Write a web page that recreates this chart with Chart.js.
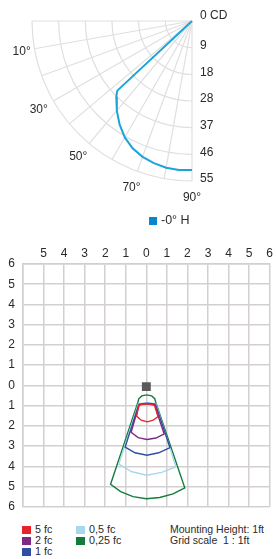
<!DOCTYPE html>
<html>
<head>
<meta charset="utf-8">
<script src="https://cdn.jsdelivr.net/npm/chart.js@4.4.0/dist/chart.umd.min.js"></script>
<style>
  html, body { margin:0; padding:0; background:#fff; }
  body { width:276px; height:559px; position:relative; overflow:hidden;
         font-family:"Liberation Sans", Arial, sans-serif; color:#2a2a2a; }
  canvas { position:absolute; left:0; }
  .lg { position:absolute; white-space:nowrap; line-height:1; }
  .sw { position:absolute; }
</style>
</head>
<body>
<canvas id="polar" width="276" height="232" style="top:0"></canvas>
<canvas id="iso" width="276" height="290" style="top:232px"></canvas>
<div id="legends"></div>

<script>
// ---- polar candela curve (angle in degrees, value in CD)
const POLAR_ANGLES = [0, 10, 20, 30, 40, 43, 45, 50, 55, 60, 65, 70, 75, 80, 85, 90];
const POLAR_CD     = [0, 0, 0, 0, 0, 35.1, 36.8, 40.2, 43.4, 46.2, 48.3, 49.7, 50.6, 51.2, 51.4, 51.2];
const POLAR_MAX    = 55;
const RING_LABELS  = ["0 CD", "9", "18", "28", "37", "46", "55"];
const SPOKE_ANGLES = [0, 10, 20, 30, 40, 50, 60, 70, 80, 90];
const ANGLE_LABELS = [10, 30, 50, 70, 90];
const POLAR_SERIES = "-0° H";

// ---- isolux contours (ft), y negative = below the fixture
const RED_X    = [-0.36, -0.42, -0.47, -0.25, 0.05, 0.33, 0.57, 0.48, 0.40, 0.20, 0.02, -0.18, -0.36];
const RED_Y    = [-0.98, -1.25, -1.52, -1.72, -1.80, -1.72, -1.54, -1.25, -0.98, -0.93, -0.91, -0.93, -0.98];
const PURPLE_X = [-0.34, -0.55, -0.74, -0.40, 0.03, 0.47, 0.87, 0.62, 0.42, 0.04, -0.34];
const PURPLE_Y = [-0.95, -1.65, -2.32, -2.58, -2.67, -2.60, -2.40, -1.65, -0.95, -0.90, -0.95];
const BLUE_X   = [-0.36, -0.70, -1.03, -0.55, 0.03, 0.60, 1.15, 0.80, 0.44, 0.04, -0.36];
const BLUE_Y   = [-0.93, -2.00, -3.05, -3.33, -3.45, -3.33, -3.08, -2.00, -0.93, -0.88, -0.93];
const LBLUE_X  = [-0.38, -0.86, -1.34, -0.70, 0.03, 0.75, 1.44, 0.95, 0.46, 0.04, -0.38];
const LBLUE_Y  = [-0.90, -2.40, -3.89, -4.27, -4.44, -4.30, -4.02, -2.45, -0.90, -0.86, -0.90];
const GREEN_X  = [-0.42, -0.37, -0.22, 0.02, 0.26, 0.41, 0.47, 1.17, 1.87, 1.30, 0.65, 0.00, -0.65, -1.25, -1.74, -1.08, -0.42];
const GREEN_Y  = [-0.87, -0.66, -0.52, -0.47, -0.52, -0.66, -0.87, -2.97, -5.06, -5.36, -5.54, -5.60, -5.50, -5.25, -4.89, -2.88, -0.87];
const ISO_LABELS = ["5 fc", "2 fc", "1 fc", "0,5 fc", "0,25 fc"];
const ISO_COLORS = ["#e6222b", "#7c2a85", "#2f4fa2", "#a8d8e9", "#137c3d"];
const GRID_TICKS = [-6, -5, -4, -3, -2, -1, 0, 1, 2, 3, 4, 5, 6];
const NOTES = ["Mounting Height: 1ft", "Grid scale  1 : 1ft"];

const TEXT = "#2a2a2a";
const FONT = "12px 'Liberation Sans', Arial, sans-serif";
const rad = d => d * Math.PI / 180;

// polar grid, ring/angle labels drawn against the chart's own scales
const polarGrid = {
  id: "polarGrid",
  beforeDatasetsDraw(chart) {
    const { ctx, scales: { x, y } } = chart;
    const cx = x.getPixelForValue(0), cy = y.getPixelForValue(0);
    const k = cx - x.getPixelForValue(-1);
    const R = POLAR_MAX * k;
    ctx.save();
    ctx.strokeStyle = "#dfdfdf"; ctx.lineWidth = 1.2;
    RING_LABELS.forEach((_, i) => {
      if (!i) return;
      ctx.beginPath();
      ctx.arc(cx, cy, R * i / (RING_LABELS.length - 1), Math.PI / 2, Math.PI);
      ctx.stroke();
    });
    SPOKE_ANGLES.forEach(a => {
      ctx.beginPath();
      ctx.moveTo(cx, cy);
      ctx.lineTo(cx - R * Math.cos(rad(a)), cy + R * Math.sin(rad(a)));
      ctx.stroke();
    });
    ctx.restore();
  },
  afterDraw(chart) {
    const { ctx, scales: { x, y } } = chart;
    const cx = x.getPixelForValue(0), cy = y.getPixelForValue(0);
    const R = POLAR_MAX * (cx - x.getPixelForValue(-1));
    ctx.save();
    ctx.font = FONT; ctx.fillStyle = TEXT;
    ctx.textAlign = "left"; ctx.textBaseline = "middle";
    RING_LABELS.forEach((t, i) => {
      ctx.fillText(t, cx + 8, cy + R * i / (RING_LABELS.length - 1) - (i ? 2 : 5));
    });
    ctx.textAlign = "center";
    ANGLE_LABELS.forEach(a => {
      const r = R + 17;
      ctx.fillText(a + "°", cx - r * Math.cos(rad(a)) + (a < 20 ? 4 : 0), cy + r * Math.sin(rad(a)));
    });
    ctx.restore();
  }
};

new Chart(document.getElementById("polar"), {
  type: "scatter",
  data: {
    datasets: [{
      label: POLAR_SERIES,
      data: POLAR_ANGLES.map((a, i) => ({ x: -POLAR_CD[i] * Math.cos(rad(a)), y: -POLAR_CD[i] * Math.sin(rad(a)) })),
      showLine: true, borderColor: "#1ba3da", borderWidth: 2, pointRadius: 0, fill: false, clip: false,
    }],
  },
  options: {
    responsive: false, animation: false, devicePixelRatio: 1,
    layout: { padding: { left: 32, right: 84, top: 21, bottom: 51 } },
    plugins: { legend: { display: false }, tooltip: { enabled: false } },
    scales: {
      x: { type: "linear", min: -POLAR_MAX, max: 0, display: false },
      y: { type: "linear", min: -POLAR_MAX, max: 0, display: false },
    },
  },
  plugins: [polarGrid],
});

// ---- isolux grid chart
const contours = [[RED_X, RED_Y], [PURPLE_X, PURPLE_Y], [BLUE_X, BLUE_Y], [LBLUE_X, LBLUE_Y], [GREEN_X, GREEN_Y]];
const gridColor = "#d3cfd0";

new Chart(document.getElementById("iso"), {
  type: "scatter",
  data: {
    datasets: [
      { label: "fixture", data: [{ x: 0, y: -0.06 }], pointStyle: "rect", pointRadius: 6.3,
        backgroundColor: "#5a5a5a", borderWidth: 0 },
      ...contours.map(([xs, ys], i) => ({
        label: ISO_LABELS[i],
        data: xs.map((v, j) => ({ x: v, y: ys[j] })),
        showLine: true, borderColor: ISO_COLORS[i], borderWidth: 1.4, pointRadius: 0, fill: false, clip: false,
      })),
    ],
  },
  options: {
    responsive: false, animation: false, devicePixelRatio: 1,
    layout: { padding: { left: 0, right: 5, top: 0, bottom: 10 } },
    plugins: { legend: { display: false }, tooltip: { enabled: false } },
    scales: {
      x: {
        type: "linear", position: "top", min: -6, max: 6,
        afterBuildTicks: s => { s.ticks = GRID_TICKS.map(v => ({ value: v })); },
        afterFit: s => { s.height = 32; },
        ticks: { callback: v => v === -6 ? "" : Math.abs(v), color: TEXT, padding: 3, maxRotation: 0,
                 autoSkip: false, font: { family: "'Liberation Sans', Arial, sans-serif", size: 12 } },
        grid: { color: gridColor, lineWidth: 1.5, drawTicks: false },
        border: { color: gridColor, width: 1.5 },
      },
      y: {
        type: "linear", min: -6, max: 6,
        afterBuildTicks: s => { s.ticks = GRID_TICKS.map(v => ({ value: v })); },
        afterFit: s => { s.width = 23; },
        ticks: { callback: v => Math.abs(v), color: TEXT, padding: 8, autoSkip: false,
                 font: { family: "'Liberation Sans', Arial, sans-serif", size: 12 } },
        grid: { color: gridColor, lineWidth: 1.5, drawTicks: false },
        border: { color: gridColor, width: 1.5 },
      },
    },
  },
});

// ---- legends as html text
const lg = document.getElementById("legends");
function add(html) { lg.insertAdjacentHTML("beforeend", html); }

add(`<div class="sw" style="left:149px;top:217px;width:8px;height:8px;background:#0a86cc"></div>`);
add(`<div class="lg" style="left:161px;top:214px;font-size:12.5px">${POLAR_SERIES}</div>`);

ISO_LABELS.forEach((t, i) => {
  const col = i < 3 ? 0 : 1, row = i < 3 ? i : i - 3;
  const sx = col ? 76 : 22, top = 526 + row * 11;
  add(`<div class="sw" style="left:${sx}px;top:${top}px;width:9px;height:8px;background:${ISO_COLORS[i]}"></div>`);
  add(`<div class="lg" style="left:${sx + 13}px;top:${top - 2}px;font-size:10.8px">${t}</div>`);
});
NOTES.forEach((t, i) => {
  add(`<div class="lg" style="left:170px;top:${524 + i * 11}px;font-size:10.5px;white-space:pre">${t}</div>`);
});
</script>
</body>
</html>
